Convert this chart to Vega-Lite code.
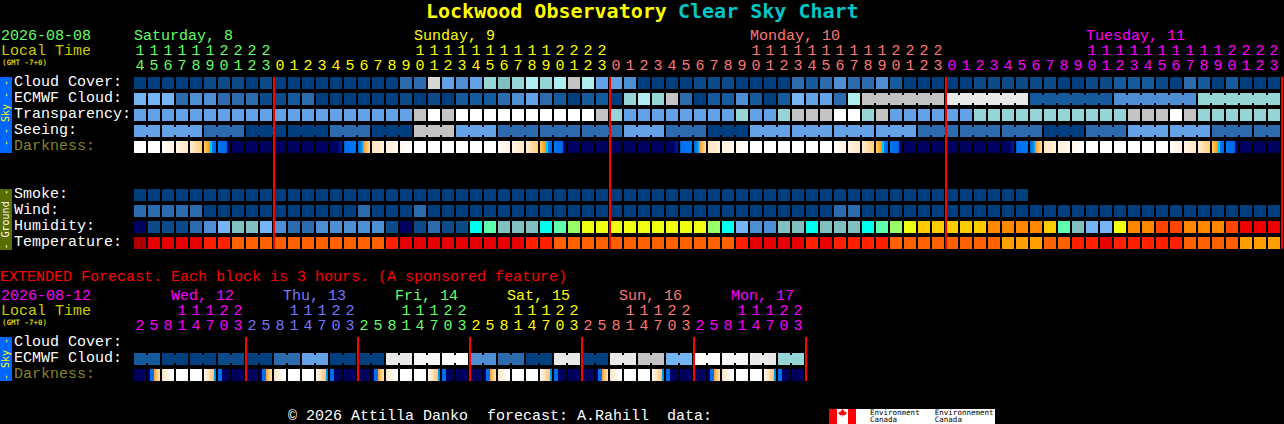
{"$schema":"https://vega.github.io/schema/vega-lite/v6.json","width":1284,"height":424,"padding":0,"autosize":{"type":"fit","contains":"padding"},"background":"#000000","config":{"view":{"stroke":null},"axis":{"disable":true}},
"datasets":{
"cells":[
{"c":0,"r":0,"k":"A"},{"c":1,"r":0,"k":"A"},{"c":2,"r":0,"k":"A"},{"c":3,"r":0,"k":"A"},{"c":4,"r":0,"k":"A"},{"c":5,"r":0,"k":"B"},{"c":6,"r":0,"k":"B"},{"c":7,"r":0,"k":"B"},{"c":8,"r":0,"k":"A"},{"c":9,"r":0,"k":"B"},{"c":10,"r":0,"k":"A"},{"c":11,"r":0,"k":"A"},{"c":12,"r":0,"k":"A"},{"c":13,"r":0,"k":"A"},{"c":14,"r":0,"k":"A"},{"c":15,"r":0,"k":"A"},{"c":16,"r":0,"k":"A"},{"c":17,"r":0,"k":"A"},{"c":18,"r":0,"k":"A"},{"c":19,"r":0,"k":"D"},{"c":20,"r":0,"k":"D"},{"c":21,"r":0,"k":"Q"},{"c":22,"r":0,"k":"F"},{"c":23,"r":0,"k":"E"},{"c":24,"r":0,"k":"F"},{"c":25,"r":0,"k":"I"},{"c":26,"r":0,"k":"H"},{"c":27,"r":0,"k":"I"},{"c":28,"r":0,"k":"J"},{"c":29,"r":0,"k":"I"},{"c":30,"r":0,"k":"J"},{"c":31,"r":0,"k":"K"},{"c":32,"r":0,"k":"J"},{"c":33,"r":0,"k":"F"},{"c":34,"r":0,"k":"F"},{"c":35,"r":0,"k":"E"},{"c":36,"r":0,"k":"A"},{"c":37,"r":0,"k":"A"},{"c":38,"r":0,"k":"A"},{"c":39,"r":0,"k":"A"},{"c":40,"r":0,"k":"B"},{"c":41,"r":0,"k":"B"},{"c":42,"r":0,"k":"B"},{"c":43,"r":0,"k":"A"},{"c":44,"r":0,"k":"A"},{"c":45,"r":0,"k":"A"},{"c":46,"r":0,"k":"A"},{"c":47,"r":0,"k":"D"},{"c":48,"r":0,"k":"C"},{"c":49,"r":0,"k":"D"},{"c":50,"r":0,"k":"E"},{"c":51,"r":0,"k":"D"},{"c":52,"r":0,"k":"D"},{"c":53,"r":0,"k":"E"},{"c":54,"r":0,"k":"C"},{"c":55,"r":0,"k":"A"},{"c":56,"r":0,"k":"A"},{"c":57,"r":0,"k":"A"},{"c":58,"r":0,"k":"A"},{"c":59,"r":0,"k":"A"},{"c":60,"r":0,"k":"B"},{"c":61,"r":0,"k":"B"},{"c":62,"r":0,"k":"B"},{"c":63,"r":0,"k":"B"},{"c":64,"r":0,"k":"B"},{"c":65,"r":0,"k":"B"},{"c":66,"r":0,"k":"A"},{"c":67,"r":0,"k":"A"},{"c":68,"r":0,"k":"B"},{"c":69,"r":0,"k":"B"},{"c":70,"r":0,"k":"C"},{"c":71,"r":0,"k":"C"},{"c":72,"r":0,"k":"C"},{"c":73,"r":0,"k":"B"},{"c":74,"r":0,"k":"A"},{"c":75,"r":0,"k":"D"},{"c":76,"r":0,"k":"C"},{"c":77,"r":0,"k":"A"},{"c":78,"r":0,"k":"C"},{"c":79,"r":0,"k":"A"},{"c":80,"r":0,"k":"A"},{"c":81,"r":0,"k":"A"},
{"c":0,"r":1,"k":"G"},{"c":1,"r":1,"k":"G"},{"c":2,"r":1,"k":"G"},{"c":3,"r":1,"k":"D"},{"c":4,"r":1,"k":"E"},{"c":5,"r":1,"k":"E"},{"c":6,"r":1,"k":"D"},{"c":7,"r":1,"k":"D"},{"c":8,"r":1,"k":"D"},{"c":9,"r":1,"k":"B"},{"c":10,"r":1,"k":"B"},{"c":11,"r":1,"k":"C"},{"c":12,"r":1,"k":"D"},{"c":13,"r":1,"k":"A"},{"c":14,"r":1,"k":"A"},{"c":15,"r":1,"k":"A"},{"c":16,"r":1,"k":"A"},{"c":17,"r":1,"k":"A"},{"c":18,"r":1,"k":"A"},{"c":19,"r":1,"k":"B"},{"c":20,"r":1,"k":"A"},{"c":21,"r":1,"k":"B"},{"c":22,"r":1,"k":"A"},{"c":23,"r":1,"k":"C"},{"c":24,"r":1,"k":"C"},{"c":25,"r":1,"k":"C"},{"c":26,"r":1,"k":"D"},{"c":27,"r":1,"k":"E"},{"c":28,"r":1,"k":"F"},{"c":29,"r":1,"k":"D"},{"c":30,"r":1,"k":"C"},{"c":31,"r":1,"k":"A"},{"c":32,"r":1,"k":"C"},{"c":33,"r":1,"k":"C"},{"c":34,"r":1,"k":"A"},{"c":35,"r":1,"k":"I"},{"c":36,"r":1,"k":"J"},{"c":37,"r":1,"k":"I"},{"c":38,"r":1,"k":"K"},{"c":39,"r":1,"k":"D"},{"c":40,"r":1,"k":"A"},{"c":41,"r":1,"k":"C"},{"c":42,"r":1,"k":"C"},{"c":43,"r":1,"k":"E"},{"c":44,"r":1,"k":"C"},{"c":45,"r":1,"k":"A"},{"c":46,"r":1,"k":"C"},{"c":47,"r":1,"k":"G"},{"c":48,"r":1,"k":"F"},{"c":49,"r":1,"k":"F"},{"c":50,"r":1,"k":"D"},{"c":51,"r":1,"k":"J"},{"c":52,"r":1,"k":"K"},{"c":53,"r":1,"k":"K"},{"c":54,"r":1,"k":"K"},{"c":55,"r":1,"k":"K"},{"c":56,"r":1,"k":"K"},{"c":57,"r":1,"k":"K"},{"c":58,"r":1,"k":"L"},{"c":59,"r":1,"k":"L"},{"c":60,"r":1,"k":"L"},{"c":61,"r":1,"k":"L"},{"c":62,"r":1,"k":"L"},{"c":63,"r":1,"k":"L"},{"c":64,"r":1,"k":"C"},{"c":65,"r":1,"k":"C"},{"c":66,"r":1,"k":"C"},{"c":67,"r":1,"k":"C"},{"c":68,"r":1,"k":"C"},{"c":69,"r":1,"k":"C"},{"c":70,"r":1,"k":"E"},{"c":71,"r":1,"k":"E"},{"c":72,"r":1,"k":"E"},{"c":73,"r":1,"k":"E"},{"c":74,"r":1,"k":"E"},{"c":75,"r":1,"k":"E"},{"c":76,"r":1,"k":"I"},{"c":77,"r":1,"k":"I"},{"c":78,"r":1,"k":"I"},{"c":79,"r":1,"k":"I"},{"c":80,"r":1,"k":"I"},{"c":81,"r":1,"k":"I"},
{"c":0,"r":2,"k":"F"},{"c":1,"r":2,"k":"F"},{"c":2,"r":2,"k":"F"},{"c":3,"r":2,"k":"F"},{"c":4,"r":2,"k":"F"},{"c":5,"r":2,"k":"F"},{"c":6,"r":2,"k":"F"},{"c":7,"r":2,"k":"F"},{"c":8,"r":2,"k":"F"},{"c":9,"r":2,"k":"F"},{"c":10,"r":2,"k":"F"},{"c":11,"r":2,"k":"F"},{"c":12,"r":2,"k":"F"},{"c":13,"r":2,"k":"F"},{"c":14,"r":2,"k":"F"},{"c":15,"r":2,"k":"F"},{"c":16,"r":2,"k":"F"},{"c":17,"r":2,"k":"F"},{"c":18,"r":2,"k":"F"},{"c":19,"r":2,"k":"F"},{"c":20,"r":2,"k":"K"},{"c":21,"r":2,"k":"M"},{"c":22,"r":2,"k":"K"},{"c":23,"r":2,"k":"M"},{"c":24,"r":2,"k":"M"},{"c":25,"r":2,"k":"M"},{"c":26,"r":2,"k":"M"},{"c":27,"r":2,"k":"M"},{"c":28,"r":2,"k":"M"},{"c":29,"r":2,"k":"M"},{"c":30,"r":2,"k":"M"},{"c":31,"r":2,"k":"M"},{"c":32,"r":2,"k":"M"},{"c":33,"r":2,"k":"K"},{"c":34,"r":2,"k":"I"},{"c":35,"r":2,"k":"F"},{"c":36,"r":2,"k":"F"},{"c":37,"r":2,"k":"F"},{"c":38,"r":2,"k":"F"},{"c":39,"r":2,"k":"F"},{"c":40,"r":2,"k":"F"},{"c":41,"r":2,"k":"F"},{"c":42,"r":2,"k":"F"},{"c":43,"r":2,"k":"I"},{"c":44,"r":2,"k":"F"},{"c":45,"r":2,"k":"F"},{"c":46,"r":2,"k":"I"},{"c":47,"r":2,"k":"K"},{"c":48,"r":2,"k":"K"},{"c":49,"r":2,"k":"K"},{"c":50,"r":2,"k":"M"},{"c":51,"r":2,"k":"M"},{"c":52,"r":2,"k":"I"},{"c":53,"r":2,"k":"K"},{"c":54,"r":2,"k":"F"},{"c":55,"r":2,"k":"F"},{"c":56,"r":2,"k":"F"},{"c":57,"r":2,"k":"F"},{"c":58,"r":2,"k":"F"},{"c":59,"r":2,"k":"F"},{"c":60,"r":2,"k":"I"},{"c":61,"r":2,"k":"I"},{"c":62,"r":2,"k":"I"},{"c":63,"r":2,"k":"I"},{"c":64,"r":2,"k":"I"},{"c":65,"r":2,"k":"I"},{"c":66,"r":2,"k":"I"},{"c":67,"r":2,"k":"I"},{"c":68,"r":2,"k":"I"},{"c":69,"r":2,"k":"I"},{"c":70,"r":2,"k":"I"},{"c":71,"r":2,"k":"K"},{"c":72,"r":2,"k":"K"},{"c":73,"r":2,"k":"K"},{"c":74,"r":2,"k":"M"},{"c":75,"r":2,"k":"K"},{"c":76,"r":2,"k":"I"},{"c":77,"r":2,"k":"I"},{"c":78,"r":2,"k":"I"},{"c":79,"r":2,"k":"I"},{"c":80,"r":2,"k":"I"},{"c":81,"r":2,"k":"I"},
{"c":0,"r":3,"k":"F"},{"c":1,"r":3,"k":"F"},{"c":2,"r":3,"k":"F"},{"c":3,"r":3,"k":"F"},{"c":4,"r":3,"k":"F"},{"c":5,"r":3,"k":"D"},{"c":6,"r":3,"k":"D"},{"c":7,"r":3,"k":"D"},{"c":8,"r":3,"k":"A"},{"c":9,"r":3,"k":"A"},{"c":10,"r":3,"k":"A"},{"c":11,"r":3,"k":"A"},{"c":12,"r":3,"k":"A"},{"c":13,"r":3,"k":"A"},{"c":14,"r":3,"k":"D"},{"c":15,"r":3,"k":"D"},{"c":16,"r":3,"k":"D"},{"c":17,"r":3,"k":"A"},{"c":18,"r":3,"k":"A"},{"c":19,"r":3,"k":"A"},{"c":20,"r":3,"k":"K"},{"c":21,"r":3,"k":"K"},{"c":22,"r":3,"k":"K"},{"c":23,"r":3,"k":"F"},{"c":24,"r":3,"k":"F"},{"c":25,"r":3,"k":"F"},{"c":26,"r":3,"k":"D"},{"c":27,"r":3,"k":"D"},{"c":28,"r":3,"k":"D"},{"c":29,"r":3,"k":"D"},{"c":30,"r":3,"k":"D"},{"c":31,"r":3,"k":"D"},{"c":32,"r":3,"k":"D"},{"c":33,"r":3,"k":"D"},{"c":34,"r":3,"k":"D"},{"c":35,"r":3,"k":"F"},{"c":36,"r":3,"k":"F"},{"c":37,"r":3,"k":"F"},{"c":38,"r":3,"k":"D"},{"c":39,"r":3,"k":"D"},{"c":40,"r":3,"k":"D"},{"c":41,"r":3,"k":"A"},{"c":42,"r":3,"k":"A"},{"c":43,"r":3,"k":"A"},{"c":44,"r":3,"k":"F"},{"c":45,"r":3,"k":"F"},{"c":46,"r":3,"k":"F"},{"c":47,"r":3,"k":"F"},{"c":48,"r":3,"k":"F"},{"c":49,"r":3,"k":"F"},{"c":50,"r":3,"k":"F"},{"c":51,"r":3,"k":"F"},{"c":52,"r":3,"k":"F"},{"c":53,"r":3,"k":"F"},{"c":54,"r":3,"k":"F"},{"c":55,"r":3,"k":"F"},{"c":56,"r":3,"k":"D"},{"c":57,"r":3,"k":"D"},{"c":58,"r":3,"k":"D"},{"c":59,"r":3,"k":"D"},{"c":60,"r":3,"k":"D"},{"c":61,"r":3,"k":"D"},{"c":62,"r":3,"k":"D"},{"c":63,"r":3,"k":"D"},{"c":64,"r":3,"k":"D"},{"c":65,"r":3,"k":"A"},{"c":66,"r":3,"k":"A"},{"c":67,"r":3,"k":"A"},{"c":68,"r":3,"k":"D"},{"c":69,"r":3,"k":"D"},{"c":70,"r":3,"k":"D"},{"c":71,"r":3,"k":"F"},{"c":72,"r":3,"k":"F"},{"c":73,"r":3,"k":"F"},{"c":74,"r":3,"k":"F"},{"c":75,"r":3,"k":"F"},{"c":76,"r":3,"k":"F"},{"c":77,"r":3,"k":"D"},{"c":78,"r":3,"k":"D"},{"c":79,"r":3,"k":"D"},{"c":80,"r":3,"k":"D"},{"c":81,"r":3,"k":"D"},
{"c":0,"r":4,"k":"M"},{"c":1,"r":4,"k":"M"},{"c":2,"r":4,"k":"dw1"},{"c":3,"r":4,"k":"dw2"},{"c":4,"r":4,"k":"dw3"},{"c":5,"r":4,"k":"dt"},{"c":6,"r":4,"k":"db"},{"c":7,"r":4,"k":"N"},{"c":8,"r":4,"k":"N"},{"c":9,"r":4,"k":"N"},{"c":10,"r":4,"k":"N"},{"c":11,"r":4,"k":"N"},{"c":12,"r":4,"k":"N"},{"c":13,"r":4,"k":"N"},{"c":14,"r":4,"k":"dn2"},{"c":15,"r":4,"k":"dm"},{"c":16,"r":4,"k":"dm2"},{"c":17,"r":4,"k":"du1"},{"c":18,"r":4,"k":"du2"},{"c":19,"r":4,"k":"du3"},{"c":20,"r":4,"k":"M"},{"c":21,"r":4,"k":"M"},{"c":22,"r":4,"k":"M"},{"c":23,"r":4,"k":"M"},{"c":24,"r":4,"k":"M"},{"c":25,"r":4,"k":"M"},{"c":26,"r":4,"k":"dw1"},{"c":27,"r":4,"k":"dw2"},{"c":28,"r":4,"k":"dw3"},{"c":29,"r":4,"k":"dt"},{"c":30,"r":4,"k":"db"},{"c":31,"r":4,"k":"N"},{"c":32,"r":4,"k":"N"},{"c":33,"r":4,"k":"N"},{"c":34,"r":4,"k":"N"},{"c":35,"r":4,"k":"N"},{"c":36,"r":4,"k":"N"},{"c":37,"r":4,"k":"N"},{"c":38,"r":4,"k":"dn2"},{"c":39,"r":4,"k":"dm"},{"c":40,"r":4,"k":"dm2"},{"c":41,"r":4,"k":"du1"},{"c":42,"r":4,"k":"du2"},{"c":43,"r":4,"k":"du3"},{"c":44,"r":4,"k":"M"},{"c":45,"r":4,"k":"M"},{"c":46,"r":4,"k":"M"},{"c":47,"r":4,"k":"M"},{"c":48,"r":4,"k":"M"},{"c":49,"r":4,"k":"M"},{"c":50,"r":4,"k":"dw1"},{"c":51,"r":4,"k":"dw2"},{"c":52,"r":4,"k":"dw3"},{"c":53,"r":4,"k":"dt"},{"c":54,"r":4,"k":"db"},{"c":55,"r":4,"k":"N"},{"c":56,"r":4,"k":"N"},{"c":57,"r":4,"k":"N"},{"c":58,"r":4,"k":"N"},{"c":59,"r":4,"k":"N"},{"c":60,"r":4,"k":"N"},{"c":61,"r":4,"k":"N"},{"c":62,"r":4,"k":"dn2"},{"c":63,"r":4,"k":"dm"},{"c":64,"r":4,"k":"dm2"},{"c":65,"r":4,"k":"du1"},{"c":66,"r":4,"k":"du2"},{"c":67,"r":4,"k":"du3"},{"c":68,"r":4,"k":"M"},{"c":69,"r":4,"k":"M"},{"c":70,"r":4,"k":"M"},{"c":71,"r":4,"k":"M"},{"c":72,"r":4,"k":"M"},{"c":73,"r":4,"k":"M"},{"c":74,"r":4,"k":"dw1"},{"c":75,"r":4,"k":"dw2"},{"c":76,"r":4,"k":"dw3"},{"c":77,"r":4,"k":"dt"},{"c":78,"r":4,"k":"db"},{"c":79,"r":4,"k":"N"},{"c":80,"r":4,"k":"N"},{"c":81,"r":4,"k":"N"},
{"c":0,"r":7,"k":"A"},{"c":1,"r":7,"k":"A"},{"c":2,"r":7,"k":"A"},{"c":3,"r":7,"k":"A"},{"c":4,"r":7,"k":"A"},{"c":5,"r":7,"k":"A"},{"c":6,"r":7,"k":"A"},{"c":7,"r":7,"k":"A"},{"c":8,"r":7,"k":"A"},{"c":9,"r":7,"k":"A"},{"c":10,"r":7,"k":"A"},{"c":11,"r":7,"k":"A"},{"c":12,"r":7,"k":"A"},{"c":13,"r":7,"k":"A"},{"c":14,"r":7,"k":"A"},{"c":15,"r":7,"k":"A"},{"c":16,"r":7,"k":"A"},{"c":17,"r":7,"k":"A"},{"c":18,"r":7,"k":"A"},{"c":19,"r":7,"k":"A"},{"c":20,"r":7,"k":"A"},{"c":21,"r":7,"k":"A"},{"c":22,"r":7,"k":"A"},{"c":23,"r":7,"k":"A"},{"c":24,"r":7,"k":"A"},{"c":25,"r":7,"k":"A"},{"c":26,"r":7,"k":"A"},{"c":27,"r":7,"k":"A"},{"c":28,"r":7,"k":"A"},{"c":29,"r":7,"k":"A"},{"c":30,"r":7,"k":"A"},{"c":31,"r":7,"k":"A"},{"c":32,"r":7,"k":"A"},{"c":33,"r":7,"k":"A"},{"c":34,"r":7,"k":"A"},{"c":35,"r":7,"k":"A"},{"c":36,"r":7,"k":"A"},{"c":37,"r":7,"k":"A"},{"c":38,"r":7,"k":"A"},{"c":39,"r":7,"k":"A"},{"c":40,"r":7,"k":"A"},{"c":41,"r":7,"k":"A"},{"c":42,"r":7,"k":"A"},{"c":43,"r":7,"k":"A"},{"c":44,"r":7,"k":"A"},{"c":45,"r":7,"k":"A"},{"c":46,"r":7,"k":"A"},{"c":47,"r":7,"k":"A"},{"c":48,"r":7,"k":"A"},{"c":49,"r":7,"k":"A"},{"c":50,"r":7,"k":"A"},{"c":51,"r":7,"k":"A"},{"c":52,"r":7,"k":"A"},{"c":53,"r":7,"k":"A"},{"c":54,"r":7,"k":"A"},{"c":55,"r":7,"k":"A"},{"c":56,"r":7,"k":"A"},{"c":57,"r":7,"k":"A"},{"c":58,"r":7,"k":"A"},{"c":59,"r":7,"k":"A"},{"c":60,"r":7,"k":"A"},{"c":61,"r":7,"k":"A"},{"c":62,"r":7,"k":"A"},{"c":63,"r":7,"k":"A"},
{"c":0,"r":8,"k":"D"},{"c":1,"r":8,"k":"D"},{"c":2,"r":8,"k":"D"},{"c":3,"r":8,"k":"D"},{"c":4,"r":8,"k":"D"},{"c":5,"r":8,"k":"A"},{"c":6,"r":8,"k":"A"},{"c":7,"r":8,"k":"A"},{"c":8,"r":8,"k":"A"},{"c":9,"r":8,"k":"A"},{"c":10,"r":8,"k":"A"},{"c":11,"r":8,"k":"A"},{"c":12,"r":8,"k":"A"},{"c":13,"r":8,"k":"A"},{"c":14,"r":8,"k":"A"},{"c":15,"r":8,"k":"A"},{"c":16,"r":8,"k":"D"},{"c":17,"r":8,"k":"A"},{"c":18,"r":8,"k":"A"},{"c":19,"r":8,"k":"A"},{"c":20,"r":8,"k":"D"},{"c":21,"r":8,"k":"A"},{"c":22,"r":8,"k":"A"},{"c":23,"r":8,"k":"A"},{"c":24,"r":8,"k":"A"},{"c":25,"r":8,"k":"A"},{"c":26,"r":8,"k":"A"},{"c":27,"r":8,"k":"A"},{"c":28,"r":8,"k":"A"},{"c":29,"r":8,"k":"A"},{"c":30,"r":8,"k":"A"},{"c":31,"r":8,"k":"A"},{"c":32,"r":8,"k":"A"},{"c":33,"r":8,"k":"A"},{"c":34,"r":8,"k":"A"},{"c":35,"r":8,"k":"A"},{"c":36,"r":8,"k":"A"},{"c":37,"r":8,"k":"A"},{"c":38,"r":8,"k":"A"},{"c":39,"r":8,"k":"A"},{"c":40,"r":8,"k":"A"},{"c":41,"r":8,"k":"A"},{"c":42,"r":8,"k":"A"},{"c":43,"r":8,"k":"A"},{"c":44,"r":8,"k":"A"},{"c":45,"r":8,"k":"A"},{"c":46,"r":8,"k":"A"},{"c":47,"r":8,"k":"A"},{"c":48,"r":8,"k":"A"},{"c":49,"r":8,"k":"A"},{"c":50,"r":8,"k":"D"},{"c":51,"r":8,"k":"D"},{"c":52,"r":8,"k":"A"},{"c":53,"r":8,"k":"A"},{"c":54,"r":8,"k":"A"},{"c":55,"r":8,"k":"A"},{"c":56,"r":8,"k":"A"},{"c":57,"r":8,"k":"A"},{"c":58,"r":8,"k":"A"},{"c":59,"r":8,"k":"A"},{"c":60,"r":8,"k":"A"},{"c":61,"r":8,"k":"A"},{"c":62,"r":8,"k":"A"},{"c":63,"r":8,"k":"A"},{"c":64,"r":8,"k":"A"},{"c":65,"r":8,"k":"A"},{"c":66,"r":8,"k":"A"},{"c":67,"r":8,"k":"A"},{"c":68,"r":8,"k":"A"},{"c":69,"r":8,"k":"A"},{"c":70,"r":8,"k":"A"},{"c":71,"r":8,"k":"A"},{"c":72,"r":8,"k":"A"},{"c":73,"r":8,"k":"A"},{"c":74,"r":8,"k":"A"},{"c":75,"r":8,"k":"A"},{"c":76,"r":8,"k":"A"},{"c":77,"r":8,"k":"A"},{"c":78,"r":8,"k":"A"},{"c":79,"r":8,"k":"A"},{"c":80,"r":8,"k":"A"},{"c":81,"r":8,"k":"A"},
{"c":0,"r":9,"k":"N"},{"c":1,"r":9,"k":"B"},{"c":2,"r":9,"k":"B"},{"c":3,"r":9,"k":"B"},{"c":4,"r":9,"k":"D"},{"c":5,"r":9,"k":"E"},{"c":6,"r":9,"k":"G"},{"c":7,"r":9,"k":"H"},{"c":8,"r":9,"k":"H"},{"c":9,"r":9,"k":"G"},{"c":10,"r":9,"k":"E"},{"c":11,"r":9,"k":"D"},{"c":12,"r":9,"k":"D"},{"c":13,"r":9,"k":"E"},{"c":14,"r":9,"k":"E"},{"c":15,"r":9,"k":"E"},{"c":16,"r":9,"k":"E"},{"c":17,"r":9,"k":"E"},{"c":18,"r":9,"k":"B"},{"c":19,"r":9,"k":"N"},{"c":20,"r":9,"k":"B"},{"c":21,"r":9,"k":"D"},{"c":22,"r":9,"k":"B"},{"c":23,"r":9,"k":"B"},{"c":24,"r":9,"k":"hc"},{"c":25,"r":9,"k":"hm"},{"c":26,"r":9,"k":"H"},{"c":27,"r":9,"k":"H"},{"c":28,"r":9,"k":"H"},{"c":29,"r":9,"k":"hc"},{"c":30,"r":9,"k":"hm"},{"c":31,"r":9,"k":"hl"},{"c":32,"r":9,"k":"hy"},{"c":33,"r":9,"k":"hy"},{"c":34,"r":9,"k":"hy"},{"c":35,"r":9,"k":"hy"},{"c":36,"r":9,"k":"hy"},{"c":37,"r":9,"k":"hy"},{"c":38,"r":9,"k":"hy"},{"c":39,"r":9,"k":"hy"},{"c":40,"r":9,"k":"hy"},{"c":41,"r":9,"k":"hl"},{"c":42,"r":9,"k":"hc"},{"c":43,"r":9,"k":"G"},{"c":44,"r":9,"k":"E"},{"c":45,"r":9,"k":"E"},{"c":46,"r":9,"k":"H"},{"c":47,"r":9,"k":"H"},{"c":48,"r":9,"k":"hc"},{"c":49,"r":9,"k":"H"},{"c":50,"r":9,"k":"H"},{"c":51,"r":9,"k":"H"},{"c":52,"r":9,"k":"hc"},{"c":53,"r":9,"k":"hm"},{"c":54,"r":9,"k":"hl"},{"c":55,"r":9,"k":"hy"},{"c":56,"r":9,"k":"hg"},{"c":57,"r":9,"k":"hg"},{"c":58,"r":9,"k":"hg"},{"c":59,"r":9,"k":"hg"},{"c":60,"r":9,"k":"hg"},{"c":61,"r":9,"k":"ho"},{"c":62,"r":9,"k":"ho"},{"c":63,"r":9,"k":"ho"},{"c":64,"r":9,"k":"ho"},{"c":65,"r":9,"k":"hg"},{"c":66,"r":9,"k":"hm"},{"c":67,"r":9,"k":"H"},{"c":68,"r":9,"k":"G"},{"c":69,"r":9,"k":"G"},{"c":70,"r":9,"k":"hy"},{"c":71,"r":9,"k":"ho"},{"c":72,"r":9,"k":"ho"},{"c":73,"r":9,"k":"hr"},{"c":74,"r":9,"k":"hr"},{"c":75,"r":9,"k":"ho"},{"c":76,"r":9,"k":"ho"},{"c":77,"r":9,"k":"ho"},{"c":78,"r":9,"k":"hr"},{"c":79,"r":9,"k":"hd"},{"c":80,"r":9,"k":"hd"},{"c":81,"r":9,"k":"hd"},
{"c":0,"r":10,"k":"t0"},{"c":1,"r":10,"k":"t1"},{"c":2,"r":10,"k":"t1"},{"c":3,"r":10,"k":"t1"},{"c":4,"r":10,"k":"t1"},{"c":5,"r":10,"k":"t2"},{"c":6,"r":10,"k":"t2"},{"c":7,"r":10,"k":"t3"},{"c":8,"r":10,"k":"t3"},{"c":9,"r":10,"k":"t3"},{"c":10,"r":10,"k":"t3"},{"c":11,"r":10,"k":"t3"},{"c":12,"r":10,"k":"t3"},{"c":13,"r":10,"k":"t3"},{"c":14,"r":10,"k":"t3"},{"c":15,"r":10,"k":"t3"},{"c":16,"r":10,"k":"t3"},{"c":17,"r":10,"k":"t3"},{"c":18,"r":10,"k":"t2"},{"c":19,"r":10,"k":"t1"},{"c":20,"r":10,"k":"t1"},{"c":21,"r":10,"k":"t1"},{"c":22,"r":10,"k":"t1"},{"c":23,"r":10,"k":"t1"},{"c":24,"r":10,"k":"t1"},{"c":25,"r":10,"k":"t1"},{"c":26,"r":10,"k":"t1"},{"c":27,"r":10,"k":"t1"},{"c":28,"r":10,"k":"t2"},{"c":29,"r":10,"k":"t2"},{"c":30,"r":10,"k":"t3"},{"c":31,"r":10,"k":"t3"},{"c":32,"r":10,"k":"t3"},{"c":33,"r":10,"k":"t3"},{"c":34,"r":10,"k":"t3"},{"c":35,"r":10,"k":"t3"},{"c":36,"r":10,"k":"t3"},{"c":37,"r":10,"k":"t3"},{"c":38,"r":10,"k":"t3"},{"c":39,"r":10,"k":"t3"},{"c":40,"r":10,"k":"t3"},{"c":41,"r":10,"k":"t3"},{"c":42,"r":10,"k":"t3"},{"c":43,"r":10,"k":"t2"},{"c":44,"r":10,"k":"t1"},{"c":45,"r":10,"k":"t1"},{"c":46,"r":10,"k":"t1"},{"c":47,"r":10,"k":"t1"},{"c":48,"r":10,"k":"t2"},{"c":49,"r":10,"k":"t1"},{"c":50,"r":10,"k":"t2"},{"c":51,"r":10,"k":"t2"},{"c":52,"r":10,"k":"t2"},{"c":53,"r":10,"k":"t2"},{"c":54,"r":10,"k":"t3"},{"c":55,"r":10,"k":"t3"},{"c":56,"r":10,"k":"t3"},{"c":57,"r":10,"k":"t3"},{"c":58,"r":10,"k":"t3"},{"c":59,"r":10,"k":"t3"},{"c":60,"r":10,"k":"t3"},{"c":61,"r":10,"k":"t3"},{"c":62,"r":10,"k":"t4"},{"c":63,"r":10,"k":"t4"},{"c":64,"r":10,"k":"t4"},{"c":65,"r":10,"k":"t3"},{"c":66,"r":10,"k":"t3"},{"c":67,"r":10,"k":"t2"},{"c":68,"r":10,"k":"t2"},{"c":69,"r":10,"k":"t1"},{"c":70,"r":10,"k":"t2"},{"c":71,"r":10,"k":"t2"},{"c":72,"r":10,"k":"t2"},{"c":73,"r":10,"k":"t2"},{"c":74,"r":10,"k":"t2"},{"c":75,"r":10,"k":"t3"},{"c":76,"r":10,"k":"t3"},{"c":77,"r":10,"k":"t3"},{"c":78,"r":10,"k":"t3"},{"c":79,"r":10,"k":"t4"},{"c":80,"r":10,"k":"t4"},{"c":81,"r":10,"k":"t4"},
{"c":0,"r":17.25,"k":"C"},{"c":1,"r":17.25,"k":"C"},{"c":2,"r":17.25,"k":"A"},{"c":3,"r":17.25,"k":"A"},{"c":4,"r":17.25,"k":"A"},{"c":5,"r":17.25,"k":"A"},{"c":6,"r":17.25,"k":"B"},{"c":7,"r":17.25,"k":"B"},{"c":8,"r":17.25,"k":"A"},{"c":9,"r":17.25,"k":"A"},{"c":10,"r":17.25,"k":"D"},{"c":11,"r":17.25,"k":"D"},{"c":12,"r":17.25,"k":"F"},{"c":13,"r":17.25,"k":"F"},{"c":14,"r":17.25,"k":"A"},{"c":15,"r":17.25,"k":"A"},{"c":16,"r":17.25,"k":"A"},{"c":17,"r":17.25,"k":"A"},{"c":18,"r":17.25,"k":"L"},{"c":19,"r":17.25,"k":"L"},{"c":20,"r":17.25,"k":"P"},{"c":21,"r":17.25,"k":"P"},{"c":22,"r":17.25,"k":"M"},{"c":23,"r":17.25,"k":"M"},{"c":24,"r":17.25,"k":"E"},{"c":25,"r":17.25,"k":"E"},{"c":26,"r":17.25,"k":"D"},{"c":27,"r":17.25,"k":"D"},{"c":28,"r":17.25,"k":"A"},{"c":29,"r":17.25,"k":"A"},{"c":30,"r":17.25,"k":"L"},{"c":31,"r":17.25,"k":"L"},{"c":32,"r":17.25,"k":"A"},{"c":33,"r":17.25,"k":"A"},{"c":34,"r":17.25,"k":"L"},{"c":35,"r":17.25,"k":"L"},{"c":36,"r":17.25,"k":"K"},{"c":37,"r":17.25,"k":"K"},{"c":38,"r":17.25,"k":"G"},{"c":39,"r":17.25,"k":"G"},{"c":40,"r":17.25,"k":"M"},{"c":41,"r":17.25,"k":"M"},{"c":42,"r":17.25,"k":"P"},{"c":43,"r":17.25,"k":"P"},{"c":44,"r":17.25,"k":"L"},{"c":45,"r":17.25,"k":"L"},{"c":46,"r":17.25,"k":"I"},{"c":47,"r":17.25,"k":"I"},
{"c":0,"r":18.25,"k":"N"},{"c":1,"r":18.25,"k":"e1"},{"c":2,"r":18.25,"k":"e2"},{"c":3,"r":18.25,"k":"M"},{"c":4,"r":18.25,"k":"M"},{"c":5,"r":18.25,"k":"e5"},{"c":6,"r":18.25,"k":"e6"},{"c":7,"r":18.25,"k":"N"},{"c":8,"r":18.25,"k":"N"},{"c":9,"r":18.25,"k":"e1"},{"c":10,"r":18.25,"k":"e2"},{"c":11,"r":18.25,"k":"M"},{"c":12,"r":18.25,"k":"M"},{"c":13,"r":18.25,"k":"e5"},{"c":14,"r":18.25,"k":"e6"},{"c":15,"r":18.25,"k":"N"},{"c":16,"r":18.25,"k":"N"},{"c":17,"r":18.25,"k":"e1"},{"c":18,"r":18.25,"k":"e2"},{"c":19,"r":18.25,"k":"M"},{"c":20,"r":18.25,"k":"M"},{"c":21,"r":18.25,"k":"e5"},{"c":22,"r":18.25,"k":"e6"},{"c":23,"r":18.25,"k":"N"},{"c":24,"r":18.25,"k":"N"},{"c":25,"r":18.25,"k":"e1"},{"c":26,"r":18.25,"k":"e2"},{"c":27,"r":18.25,"k":"M"},{"c":28,"r":18.25,"k":"M"},{"c":29,"r":18.25,"k":"e5"},{"c":30,"r":18.25,"k":"e6"},{"c":31,"r":18.25,"k":"N"},{"c":32,"r":18.25,"k":"N"},{"c":33,"r":18.25,"k":"e1"},{"c":34,"r":18.25,"k":"e2"},{"c":35,"r":18.25,"k":"M"},{"c":36,"r":18.25,"k":"M"},{"c":37,"r":18.25,"k":"e5"},{"c":38,"r":18.25,"k":"e6"},{"c":39,"r":18.25,"k":"N"},{"c":40,"r":18.25,"k":"N"},{"c":41,"r":18.25,"k":"e1"},{"c":42,"r":18.25,"k":"e2"},{"c":43,"r":18.25,"k":"M"},{"c":44,"r":18.25,"k":"M"},{"c":45,"r":18.25,"k":"e5"},{"c":46,"r":18.25,"k":"e6"},{"c":47,"r":18.25,"k":"N"}
],
"bridges":[
{"c":52,"r":1,"k":"K"},{"c":53,"r":1,"k":"K"},{"c":54,"r":1,"k":"K"},{"c":55,"r":1,"k":"K"},{"c":56,"r":1,"k":"K"},{"c":58,"r":1,"k":"L"},{"c":59,"r":1,"k":"L"},{"c":60,"r":1,"k":"L"},{"c":61,"r":1,"k":"L"},{"c":62,"r":1,"k":"L"},{"c":64,"r":1,"k":"C"},{"c":65,"r":1,"k":"C"},{"c":66,"r":1,"k":"C"},{"c":67,"r":1,"k":"C"},{"c":68,"r":1,"k":"C"},{"c":70,"r":1,"k":"E"},{"c":71,"r":1,"k":"E"},{"c":72,"r":1,"k":"E"},{"c":73,"r":1,"k":"E"},{"c":74,"r":1,"k":"E"},{"c":76,"r":1,"k":"I"},{"c":77,"r":1,"k":"I"},{"c":78,"r":1,"k":"I"},{"c":79,"r":1,"k":"I"},{"c":80,"r":1,"k":"I"},
{"c":0,"r":3,"k":"F"},{"c":2,"r":3,"k":"F"},{"c":3,"r":3,"k":"F"},{"c":5,"r":3,"k":"D"},{"c":6,"r":3,"k":"D"},{"c":8,"r":3,"k":"A"},{"c":9,"r":3,"k":"A"},{"c":11,"r":3,"k":"A"},{"c":12,"r":3,"k":"A"},{"c":14,"r":3,"k":"D"},{"c":15,"r":3,"k":"D"},{"c":17,"r":3,"k":"A"},{"c":18,"r":3,"k":"A"},{"c":20,"r":3,"k":"K"},{"c":21,"r":3,"k":"K"},{"c":23,"r":3,"k":"F"},{"c":24,"r":3,"k":"F"},{"c":26,"r":3,"k":"D"},{"c":27,"r":3,"k":"D"},{"c":29,"r":3,"k":"D"},{"c":30,"r":3,"k":"D"},{"c":32,"r":3,"k":"D"},{"c":33,"r":3,"k":"D"},{"c":35,"r":3,"k":"F"},{"c":36,"r":3,"k":"F"},{"c":38,"r":3,"k":"D"},{"c":39,"r":3,"k":"D"},{"c":41,"r":3,"k":"A"},{"c":42,"r":3,"k":"A"},{"c":44,"r":3,"k":"F"},{"c":45,"r":3,"k":"F"},{"c":47,"r":3,"k":"F"},{"c":48,"r":3,"k":"F"},{"c":50,"r":3,"k":"F"},{"c":51,"r":3,"k":"F"},{"c":53,"r":3,"k":"F"},{"c":54,"r":3,"k":"F"},{"c":56,"r":3,"k":"D"},{"c":57,"r":3,"k":"D"},{"c":59,"r":3,"k":"D"},{"c":60,"r":3,"k":"D"},{"c":62,"r":3,"k":"D"},{"c":63,"r":3,"k":"D"},{"c":65,"r":3,"k":"A"},{"c":66,"r":3,"k":"A"},{"c":68,"r":3,"k":"D"},{"c":69,"r":3,"k":"D"},{"c":71,"r":3,"k":"F"},{"c":72,"r":3,"k":"F"},{"c":74,"r":3,"k":"F"},{"c":75,"r":3,"k":"F"},{"c":77,"r":3,"k":"D"},{"c":78,"r":3,"k":"D"},{"c":80,"r":3,"k":"D"},
{"c":0,"r":17.25,"k":"C"},{"c":2,"r":17.25,"k":"A"},{"c":4,"r":17.25,"k":"A"},{"c":6,"r":17.25,"k":"B"},{"c":8,"r":17.25,"k":"A"},{"c":10,"r":17.25,"k":"D"},{"c":12,"r":17.25,"k":"F"},{"c":14,"r":17.25,"k":"A"},{"c":16,"r":17.25,"k":"A"},{"c":18,"r":17.25,"k":"L"},{"c":20,"r":17.25,"k":"P"},{"c":22,"r":17.25,"k":"M"},{"c":24,"r":17.25,"k":"E"},{"c":26,"r":17.25,"k":"D"},{"c":28,"r":17.25,"k":"A"},{"c":30,"r":17.25,"k":"L"},{"c":32,"r":17.25,"k":"A"},{"c":34,"r":17.25,"k":"L"},{"c":36,"r":17.25,"k":"K"},{"c":38,"r":17.25,"k":"G"},{"c":40,"r":17.25,"k":"M"},{"c":42,"r":17.25,"k":"P"},{"c":44,"r":17.25,"k":"L"},{"c":46,"r":17.25,"k":"I"}
],
"digits":[
{"c":0,"r":-1.375,"t":"1","k":"gn"},{"c":1,"r":-1.375,"t":"1","k":"gn"},{"c":2,"r":-1.375,"t":"1","k":"gn"},{"c":3,"r":-1.375,"t":"1","k":"gn"},{"c":4,"r":-1.375,"t":"1","k":"gn"},{"c":5,"r":-1.375,"t":"1","k":"gn"},{"c":6,"r":-1.375,"t":"2","k":"gn"},{"c":7,"r":-1.375,"t":"2","k":"gn"},{"c":8,"r":-1.375,"t":"2","k":"gn"},{"c":9,"r":-1.375,"t":"2","k":"gn"},
{"c":20,"r":-1.375,"t":"1","k":"yl"},{"c":21,"r":-1.375,"t":"1","k":"yl"},{"c":22,"r":-1.375,"t":"1","k":"yl"},{"c":23,"r":-1.375,"t":"1","k":"yl"},{"c":24,"r":-1.375,"t":"1","k":"yl"},{"c":25,"r":-1.375,"t":"1","k":"yl"},{"c":26,"r":-1.375,"t":"1","k":"yl"},{"c":27,"r":-1.375,"t":"1","k":"yl"},{"c":28,"r":-1.375,"t":"1","k":"yl"},{"c":29,"r":-1.375,"t":"1","k":"yl"},{"c":30,"r":-1.375,"t":"2","k":"yl"},{"c":31,"r":-1.375,"t":"2","k":"yl"},{"c":32,"r":-1.375,"t":"2","k":"yl"},{"c":33,"r":-1.375,"t":"2","k":"yl"},
{"c":44,"r":-1.375,"t":"1","k":"sm"},{"c":45,"r":-1.375,"t":"1","k":"sm"},{"c":46,"r":-1.375,"t":"1","k":"sm"},{"c":47,"r":-1.375,"t":"1","k":"sm"},{"c":48,"r":-1.375,"t":"1","k":"sm"},{"c":49,"r":-1.375,"t":"1","k":"sm"},{"c":50,"r":-1.375,"t":"1","k":"sm"},{"c":51,"r":-1.375,"t":"1","k":"sm"},{"c":52,"r":-1.375,"t":"1","k":"sm"},{"c":53,"r":-1.375,"t":"1","k":"sm"},{"c":54,"r":-1.375,"t":"2","k":"sm"},{"c":55,"r":-1.375,"t":"2","k":"sm"},{"c":56,"r":-1.375,"t":"2","k":"sm"},{"c":57,"r":-1.375,"t":"2","k":"sm"},
{"c":68,"r":-1.375,"t":"1","k":"mg"},{"c":69,"r":-1.375,"t":"1","k":"mg"},{"c":70,"r":-1.375,"t":"1","k":"mg"},{"c":71,"r":-1.375,"t":"1","k":"mg"},{"c":72,"r":-1.375,"t":"1","k":"mg"},{"c":73,"r":-1.375,"t":"1","k":"mg"},{"c":74,"r":-1.375,"t":"1","k":"mg"},{"c":75,"r":-1.375,"t":"1","k":"mg"},{"c":76,"r":-1.375,"t":"1","k":"mg"},{"c":77,"r":-1.375,"t":"1","k":"mg"},{"c":78,"r":-1.375,"t":"2","k":"mg"},{"c":79,"r":-1.375,"t":"2","k":"mg"},{"c":80,"r":-1.375,"t":"2","k":"mg"},{"c":81,"r":-1.375,"t":"2","k":"mg"},
{"c":0,"r":-0.4375,"t":"4","k":"gn"},{"c":1,"r":-0.4375,"t":"5","k":"gn"},{"c":2,"r":-0.4375,"t":"6","k":"gn"},{"c":3,"r":-0.4375,"t":"7","k":"gn"},{"c":4,"r":-0.4375,"t":"8","k":"gn"},{"c":5,"r":-0.4375,"t":"9","k":"gn"},{"c":6,"r":-0.4375,"t":"0","k":"gn"},{"c":7,"r":-0.4375,"t":"1","k":"gn"},{"c":8,"r":-0.4375,"t":"2","k":"gn"},{"c":9,"r":-0.4375,"t":"3","k":"gn"},
{"c":10,"r":-0.4375,"t":"0","k":"yl"},{"c":11,"r":-0.4375,"t":"1","k":"yl"},{"c":12,"r":-0.4375,"t":"2","k":"yl"},{"c":13,"r":-0.4375,"t":"3","k":"yl"},{"c":14,"r":-0.4375,"t":"4","k":"yl"},{"c":15,"r":-0.4375,"t":"5","k":"yl"},{"c":16,"r":-0.4375,"t":"6","k":"yl"},{"c":17,"r":-0.4375,"t":"7","k":"yl"},{"c":18,"r":-0.4375,"t":"8","k":"yl"},{"c":19,"r":-0.4375,"t":"9","k":"yl"},{"c":20,"r":-0.4375,"t":"0","k":"yl"},{"c":21,"r":-0.4375,"t":"1","k":"yl"},{"c":22,"r":-0.4375,"t":"2","k":"yl"},{"c":23,"r":-0.4375,"t":"3","k":"yl"},{"c":24,"r":-0.4375,"t":"4","k":"yl"},{"c":25,"r":-0.4375,"t":"5","k":"yl"},{"c":26,"r":-0.4375,"t":"6","k":"yl"},{"c":27,"r":-0.4375,"t":"7","k":"yl"},{"c":28,"r":-0.4375,"t":"8","k":"yl"},{"c":29,"r":-0.4375,"t":"9","k":"yl"},{"c":30,"r":-0.4375,"t":"0","k":"yl"},{"c":31,"r":-0.4375,"t":"1","k":"yl"},{"c":32,"r":-0.4375,"t":"2","k":"yl"},{"c":33,"r":-0.4375,"t":"3","k":"yl"},
{"c":34,"r":-0.4375,"t":"0","k":"sm"},{"c":35,"r":-0.4375,"t":"1","k":"sm"},{"c":36,"r":-0.4375,"t":"2","k":"sm"},{"c":37,"r":-0.4375,"t":"3","k":"sm"},{"c":38,"r":-0.4375,"t":"4","k":"sm"},{"c":39,"r":-0.4375,"t":"5","k":"sm"},{"c":40,"r":-0.4375,"t":"6","k":"sm"},{"c":41,"r":-0.4375,"t":"7","k":"sm"},{"c":42,"r":-0.4375,"t":"8","k":"sm"},{"c":43,"r":-0.4375,"t":"9","k":"sm"},{"c":44,"r":-0.4375,"t":"0","k":"sm"},{"c":45,"r":-0.4375,"t":"1","k":"sm"},{"c":46,"r":-0.4375,"t":"2","k":"sm"},{"c":47,"r":-0.4375,"t":"3","k":"sm"},{"c":48,"r":-0.4375,"t":"4","k":"sm"},{"c":49,"r":-0.4375,"t":"5","k":"sm"},{"c":50,"r":-0.4375,"t":"6","k":"sm"},{"c":51,"r":-0.4375,"t":"7","k":"sm"},{"c":52,"r":-0.4375,"t":"8","k":"sm"},{"c":53,"r":-0.4375,"t":"9","k":"sm"},{"c":54,"r":-0.4375,"t":"0","k":"sm"},{"c":55,"r":-0.4375,"t":"1","k":"sm"},{"c":56,"r":-0.4375,"t":"2","k":"sm"},{"c":57,"r":-0.4375,"t":"3","k":"sm"},
{"c":58,"r":-0.4375,"t":"0","k":"mg"},{"c":59,"r":-0.4375,"t":"1","k":"mg"},{"c":60,"r":-0.4375,"t":"2","k":"mg"},{"c":61,"r":-0.4375,"t":"3","k":"mg"},{"c":62,"r":-0.4375,"t":"4","k":"mg"},{"c":63,"r":-0.4375,"t":"5","k":"mg"},{"c":64,"r":-0.4375,"t":"6","k":"mg"},{"c":65,"r":-0.4375,"t":"7","k":"mg"},{"c":66,"r":-0.4375,"t":"8","k":"mg"},{"c":67,"r":-0.4375,"t":"9","k":"mg"},{"c":68,"r":-0.4375,"t":"0","k":"mg"},{"c":69,"r":-0.4375,"t":"1","k":"mg"},{"c":70,"r":-0.4375,"t":"2","k":"mg"},{"c":71,"r":-0.4375,"t":"3","k":"mg"},{"c":72,"r":-0.4375,"t":"4","k":"mg"},{"c":73,"r":-0.4375,"t":"5","k":"mg"},{"c":74,"r":-0.4375,"t":"6","k":"mg"},{"c":75,"r":-0.4375,"t":"7","k":"mg"},{"c":76,"r":-0.4375,"t":"8","k":"mg"},{"c":77,"r":-0.4375,"t":"9","k":"mg"},{"c":78,"r":-0.4375,"t":"0","k":"mg"},{"c":79,"r":-0.4375,"t":"1","k":"mg"},{"c":80,"r":-0.4375,"t":"2","k":"mg"},{"c":81,"r":-0.4375,"t":"3","k":"mg"},
{"c":3,"r":14.875,"t":"1","k":"mg"},{"c":4,"r":14.875,"t":"1","k":"mg"},{"c":5,"r":14.875,"t":"1","k":"mg"},{"c":6,"r":14.875,"t":"2","k":"mg"},{"c":7,"r":14.875,"t":"2","k":"mg"},
{"c":11,"r":14.875,"t":"1","k":"bl"},{"c":12,"r":14.875,"t":"1","k":"bl"},{"c":13,"r":14.875,"t":"1","k":"bl"},{"c":14,"r":14.875,"t":"2","k":"bl"},{"c":15,"r":14.875,"t":"2","k":"bl"},
{"c":19,"r":14.875,"t":"1","k":"gn"},{"c":20,"r":14.875,"t":"1","k":"gn"},{"c":21,"r":14.875,"t":"1","k":"gn"},{"c":22,"r":14.875,"t":"2","k":"gn"},{"c":23,"r":14.875,"t":"2","k":"gn"},
{"c":27,"r":14.875,"t":"1","k":"yl"},{"c":28,"r":14.875,"t":"1","k":"yl"},{"c":29,"r":14.875,"t":"1","k":"yl"},{"c":30,"r":14.875,"t":"2","k":"yl"},{"c":31,"r":14.875,"t":"2","k":"yl"},
{"c":35,"r":14.875,"t":"1","k":"sm"},{"c":36,"r":14.875,"t":"1","k":"sm"},{"c":37,"r":14.875,"t":"1","k":"sm"},{"c":38,"r":14.875,"t":"2","k":"sm"},{"c":39,"r":14.875,"t":"2","k":"sm"},
{"c":43,"r":14.875,"t":"1","k":"mg"},{"c":44,"r":14.875,"t":"1","k":"mg"},{"c":45,"r":14.875,"t":"1","k":"mg"},{"c":46,"r":14.875,"t":"2","k":"mg"},{"c":47,"r":14.875,"t":"2","k":"mg"},
{"c":0,"r":15.8125,"t":"2","k":"mg"},{"c":1,"r":15.8125,"t":"5","k":"mg"},{"c":2,"r":15.8125,"t":"8","k":"mg"},{"c":3,"r":15.8125,"t":"1","k":"mg"},{"c":4,"r":15.8125,"t":"4","k":"mg"},{"c":5,"r":15.8125,"t":"7","k":"mg"},{"c":6,"r":15.8125,"t":"0","k":"mg"},{"c":7,"r":15.8125,"t":"3","k":"mg"},
{"c":8,"r":15.8125,"t":"2","k":"bl"},{"c":9,"r":15.8125,"t":"5","k":"bl"},{"c":10,"r":15.8125,"t":"8","k":"bl"},{"c":11,"r":15.8125,"t":"1","k":"bl"},{"c":12,"r":15.8125,"t":"4","k":"bl"},{"c":13,"r":15.8125,"t":"7","k":"bl"},{"c":14,"r":15.8125,"t":"0","k":"bl"},{"c":15,"r":15.8125,"t":"3","k":"bl"},
{"c":16,"r":15.8125,"t":"2","k":"gn"},{"c":17,"r":15.8125,"t":"5","k":"gn"},{"c":18,"r":15.8125,"t":"8","k":"gn"},{"c":19,"r":15.8125,"t":"1","k":"gn"},{"c":20,"r":15.8125,"t":"4","k":"gn"},{"c":21,"r":15.8125,"t":"7","k":"gn"},{"c":22,"r":15.8125,"t":"0","k":"gn"},{"c":23,"r":15.8125,"t":"3","k":"gn"},
{"c":24,"r":15.8125,"t":"2","k":"yl"},{"c":25,"r":15.8125,"t":"5","k":"yl"},{"c":26,"r":15.8125,"t":"8","k":"yl"},{"c":27,"r":15.8125,"t":"1","k":"yl"},{"c":28,"r":15.8125,"t":"4","k":"yl"},{"c":29,"r":15.8125,"t":"7","k":"yl"},{"c":30,"r":15.8125,"t":"0","k":"yl"},{"c":31,"r":15.8125,"t":"3","k":"yl"},
{"c":32,"r":15.8125,"t":"2","k":"sm"},{"c":33,"r":15.8125,"t":"5","k":"sm"},{"c":34,"r":15.8125,"t":"8","k":"sm"},{"c":35,"r":15.8125,"t":"1","k":"sm"},{"c":36,"r":15.8125,"t":"4","k":"sm"},{"c":37,"r":15.8125,"t":"7","k":"sm"},{"c":38,"r":15.8125,"t":"0","k":"sm"},{"c":39,"r":15.8125,"t":"3","k":"sm"},
{"c":40,"r":15.8125,"t":"2","k":"mg"},{"c":41,"r":15.8125,"t":"5","k":"mg"},{"c":42,"r":15.8125,"t":"8","k":"mg"},{"c":43,"r":15.8125,"t":"1","k":"mg"},{"c":44,"r":15.8125,"t":"4","k":"mg"},{"c":45,"r":15.8125,"t":"7","k":"mg"},{"c":46,"r":15.8125,"t":"0","k":"mg"},{"c":47,"r":15.8125,"t":"3","k":"mg"}
]
},
"encoding":{
"x":{"field":"c","type":"quantitative","axis":null,"scale":{"domain":[-9.571428,82.142857],"nice":false,"zero":false}},
"y":{"field":"r","type":"quantitative","axis":null,"scale":{"domain":[-4.8125,21.6875],"nice":false,"zero":false,"reverse":true}},
"color":{"field":"k","type":"nominal","legend":null,"scale":{
"domain":["A","B","C","D","E","F","G","H","I","J","K","L","M","P","Q","N","hc","hm","hl","hy","hg","ho","hr","hd","t0","t1","t2","t3","t4","gn","yl","sm","mg","bl","lt","dk","wh","cy","rd","bk","sb","gb"],
"range":["#003f7f","#0c4a8a","#155a9c","#2c6cae","#4e8ed4","#63a2e6","#75b5f5","#80c0c0","#95d5d5","#aeeeee","#c3c3c3","#e9e9e9","#ffffff","#f8f8f8","#d6d6d6","#000060","#00ffee","#5fffaf","#99ff66","#eeff11","#ffcc00","#ff8800","#ff4400","#ee0000","#aa0000","#e60000","#ff2000","#ff6000","#ffa000","#66ff66","#ffff00","#ff7777","#ff00ff","#7777ff","#cccc00","#858520","#ffffff","#00c8c8","#ff0000","#000000","#0066ff","#5a6e00"]}}
},
"layer":[
{"data":{"values":[{"c":-9.571428,"c2":-8.714286,"r":0,"r2":4.75,"k":"sb"},{"c":-9.571428,"c2":-8.714286,"r":7,"r2":10.8125,"k":"gb"},{"c":-9.571428,"c2":-8.714286,"r":16.25,"r2":19,"k":"sb"},{"c":49.642857,"c2":61.5,"r":20.75,"r2":21.6875,"k":"wh"},{"c":49.642857,"c2":50.214286,"r":20.75,"r2":21.6875,"k":"rd"},{"c":51,"c2":51.571428,"r":20.75,"r2":21.6875,"k":"rd"}]},
"mark":{"type":"rect"},"encoding":{"x2":{"field":"c2"},"y2":{"field":"r2"}}},
{"data":{"name":"cells"},"transform":[{"filter":{"not":{"field":"k","oneOf":["dw1","dw2","dw3","dt","db","dn2","dm","dm2","du1","du2","du3","e1","e2","e5","e6"]}}}],"mark":{"type":"rect","width":12,"height":12,"xOffset":6,"yOffset":6}},
{"data":{"name":"cells"},"transform":[{"filter":{"field":"k","equal":"dw1"}}],"mark":{"type":"rect","width":12,"height":12,"xOffset":6,"yOffset":6},"encoding":{"color":{"value":{"gradient":"linear","x1":0,"y1":0,"x2":1,"y2":0,"stops":[{"offset":0,"color":"#ffffff"},{"offset":1,"color":"#fff0de"}]}}}},
{"data":{"name":"cells"},"transform":[{"filter":{"field":"k","equal":"dw2"}}],"mark":{"type":"rect","width":12,"height":12,"xOffset":6,"yOffset":6},"encoding":{"color":{"value":{"gradient":"linear","x1":0,"y1":0,"x2":1,"y2":0,"stops":[{"offset":0,"color":"#fff4e6"},{"offset":1,"color":"#ffe6c4"}]}}}},
{"data":{"name":"cells"},"transform":[{"filter":{"field":"k","equal":"dw3"}}],"mark":{"type":"rect","width":12,"height":12,"xOffset":6,"yOffset":6},"encoding":{"color":{"value":{"gradient":"linear","x1":0,"y1":0,"x2":1,"y2":0,"stops":[{"offset":0,"color":"#ffeccf"},{"offset":1,"color":"#ffca80"}]}}}},
{"data":{"name":"cells"},"transform":[{"filter":{"field":"k","equal":"dt"}}],"mark":{"type":"rect","width":12,"height":12,"xOffset":6,"yOffset":6},"encoding":{"color":{"value":{"gradient":"linear","x1":0,"y1":0,"x2":1,"y2":0,"stops":[{"offset":0,"color":"#ffcc66"},{"offset":0.45,"color":"#ff9a10"},{"offset":0.5,"color":"#00c8ff"},{"offset":0.66,"color":"#00c0f8"},{"offset":0.68,"color":"#0078f0"},{"offset":1,"color":"#0060e8"}]}}}},
{"data":{"name":"cells"},"transform":[{"filter":{"field":"k","equal":"db"}}],"mark":{"type":"rect","width":12,"height":12,"xOffset":6,"yOffset":6},"encoding":{"color":{"value":{"gradient":"linear","x1":0,"y1":0,"x2":1,"y2":0,"stops":[{"offset":0,"color":"#0073f5"},{"offset":0.7,"color":"#0068e8"},{"offset":0.76,"color":"#0030a0"},{"offset":0.85,"color":"#00006a"},{"offset":1,"color":"#000060"}]}}}},
{"data":{"name":"cells"},"transform":[{"filter":{"field":"k","equal":"dn2"}}],"mark":{"type":"rect","width":12,"height":12,"xOffset":6,"yOffset":6},"encoding":{"color":{"value":{"gradient":"linear","x1":0,"y1":0,"x2":1,"y2":0,"stops":[{"offset":0,"color":"#000060"},{"offset":0.6,"color":"#000060"},{"offset":1,"color":"#0020a0"}]}}}},
{"data":{"name":"cells"},"transform":[{"filter":{"field":"k","equal":"dm"}}],"mark":{"type":"rect","width":12,"height":12,"xOffset":6,"yOffset":6},"encoding":{"color":{"value":{"gradient":"linear","x1":0,"y1":0,"x2":1,"y2":0,"stops":[{"offset":0,"color":"#0050d0"},{"offset":0.15,"color":"#0073f0"},{"offset":1,"color":"#0073f0"}]}}}},
{"data":{"name":"cells"},"transform":[{"filter":{"field":"k","equal":"dm2"}}],"mark":{"type":"rect","width":12,"height":12,"xOffset":6,"yOffset":6},"encoding":{"color":{"value":{"gradient":"linear","x1":0,"y1":0,"x2":1,"y2":0,"stops":[{"offset":0,"color":"#0060e0"},{"offset":0.3,"color":"#0090f0"},{"offset":0.42,"color":"#10b8e0"},{"offset":0.5,"color":"#ffa030"},{"offset":0.7,"color":"#ffb858"},{"offset":1,"color":"#ffd8a0"}]}}}},
{"data":{"name":"cells"},"transform":[{"filter":{"field":"k","equal":"du1"}}],"mark":{"type":"rect","width":12,"height":12,"xOffset":6,"yOffset":6},"encoding":{"color":{"value":{"gradient":"linear","x1":0,"y1":0,"x2":1,"y2":0,"stops":[{"offset":0,"color":"#ffe4c0"},{"offset":1,"color":"#fff0dc"}]}}}},
{"data":{"name":"cells"},"transform":[{"filter":{"field":"k","equal":"du2"}}],"mark":{"type":"rect","width":12,"height":12,"xOffset":6,"yOffset":6},"encoding":{"color":{"value":{"gradient":"linear","x1":0,"y1":0,"x2":1,"y2":0,"stops":[{"offset":0,"color":"#fff0dc"},{"offset":1,"color":"#fff8ee"}]}}}},
{"data":{"name":"cells"},"transform":[{"filter":{"field":"k","equal":"du3"}}],"mark":{"type":"rect","width":12,"height":12,"xOffset":6,"yOffset":6},"encoding":{"color":{"value":{"gradient":"linear","x1":0,"y1":0,"x2":1,"y2":0,"stops":[{"offset":0,"color":"#fff8f0"},{"offset":1,"color":"#ffffff"}]}}}},
{"data":{"name":"cells"},"transform":[{"filter":{"field":"k","equal":"e1"}}],"mark":{"type":"rect","width":12,"height":12,"xOffset":6,"yOffset":6},"encoding":{"color":{"value":{"gradient":"linear","x1":0,"y1":0,"x2":1,"y2":0,"stops":[{"offset":0,"color":"#000060"},{"offset":0.15,"color":"#000060"},{"offset":0.18,"color":"#0070f0"},{"offset":0.5,"color":"#0070f0"},{"offset":0.52,"color":"#ffa030"},{"offset":0.7,"color":"#ffc070"},{"offset":1,"color":"#ffe4c0"}]}}}},
{"data":{"name":"cells"},"transform":[{"filter":{"field":"k","equal":"e2"}}],"mark":{"type":"rect","width":12,"height":12,"xOffset":6,"yOffset":6},"encoding":{"color":{"value":{"gradient":"linear","x1":0,"y1":0,"x2":1,"y2":0,"stops":[{"offset":0,"color":"#ffe4c0"},{"offset":0.8,"color":"#ffffff"},{"offset":1,"color":"#ffffff"}]}}}},
{"data":{"name":"cells"},"transform":[{"filter":{"field":"k","equal":"e5"}}],"mark":{"type":"rect","width":12,"height":12,"xOffset":6,"yOffset":6},"encoding":{"color":{"value":{"gradient":"linear","x1":0,"y1":0,"x2":1,"y2":0,"stops":[{"offset":0,"color":"#ffffff"},{"offset":0.8,"color":"#ffc070"},{"offset":0.83,"color":"#ffb050"},{"offset":0.85,"color":"#00a0f0"},{"offset":1,"color":"#0070f0"}]}}}},
{"data":{"name":"cells"},"transform":[{"filter":{"field":"k","equal":"e6"}}],"mark":{"type":"rect","width":12,"height":12,"xOffset":6,"yOffset":6},"encoding":{"color":{"value":{"gradient":"linear","x1":0,"y1":0,"x2":1,"y2":0,"stops":[{"offset":0,"color":"#0070f0"},{"offset":0.33,"color":"#0070f0"},{"offset":0.36,"color":"#000060"},{"offset":1,"color":"#000060"}]}}}},
{"data":{"name":"bridges"},"mark":{"type":"rect","width":2,"height":8,"xOffset":13,"yOffset":6}},
{"data":{"values":[{"c":10,"r":0,"r2":10.75},{"c":34,"r":0,"r2":10.75},{"c":58,"r":0,"r2":10.75},{"c":82,"r":0,"r2":10.75},{"c":8,"r":16.25,"r2":19},{"c":16,"r":16.25,"r2":19},{"c":24,"r":16.25,"r2":19},{"c":32,"r":16.25,"r2":19},{"c":40,"r":16.25,"r2":19},{"c":48,"r":16.25,"r2":19}]},
"mark":{"type":"rule","strokeWidth":2},"encoding":{"y2":{"field":"r2"},"color":{"value":"#ff0000"}}},
{"data":{"values":[{"c":50.607,"r":21.0}]},"mark":{"type":"point","filled":true,"opacity":1,"size":70,"shape":"M0,-1L.25,-.55L.45,-.65L.35,-.15L.6,-.4L.7,-.2L1,-.25L.85,.1L.95,.2L.5,.55L.05,.5V1H-.05V.5L-.5,.55L-.95,.2L-.85,.1L-1,-.25L-.7,-.2L-.6,-.4L-.35,-.15L-.45,-.65L-.25,-.55Z"},"encoding":{"color":{"value":"#ff0000"}}},
{"data":{"name":"digits"},"mark":{"type":"text","align":"center","baseline":"alphabetic","font":"Liberation Mono","fontSize":15,"xOffset":6},"encoding":{"text":{"field":"t"}}},
{"data":{"values":[
{"c":-9.5,"r":-2.3125,"t":"2026-08-08","k":"gn"},{"c":-9.5,"r":-1.375,"t":"Local Time","k":"lt"},
{"c":0,"r":-2.3125,"t":"Saturday, 8","k":"gn"},{"c":20,"r":-2.3125,"t":"Sunday, 9","k":"yl"},{"c":44,"r":-2.3125,"t":"Monday, 10","k":"sm"},{"c":68,"r":-2.3125,"t":"Tuesday, 11","k":"mg"},
{"c":-8.5714,"r":0.5625,"t":"Cloud Cover:","k":"wh"},{"c":-8.5714,"r":1.5625,"t":"ECMWF Cloud:","k":"wh"},{"c":-8.5714,"r":2.5625,"t":"Transparency:","k":"wh"},{"c":-8.5714,"r":3.5625,"t":"Seeing:","k":"wh"},{"c":-8.5714,"r":4.5625,"t":"Darkness:","k":"dk"},
{"c":-8.5714,"r":7.5625,"t":"Smoke:","k":"wh"},{"c":-8.5714,"r":8.5625,"t":"Wind:","k":"wh"},{"c":-8.5714,"r":9.5625,"t":"Humidity:","k":"wh"},{"c":-8.5714,"r":10.5625,"t":"Temperature:","k":"wh"},
{"c":-9.5714,"r":12.75,"t":"EXTENDED Forecast. Each block is 3 hours. (A sponsored feature)","k":"rd"},
{"c":-9.5,"r":13.9375,"t":"2026-08-12","k":"mg"},{"c":-9.5,"r":14.875,"t":"Local Time","k":"lt"},
{"c":2.643,"r":13.9375,"t":"Wed, 12","k":"mg"},{"c":10.643,"r":13.9375,"t":"Thu, 13","k":"bl"},{"c":18.643,"r":13.9375,"t":"Fri, 14","k":"gn"},{"c":26.643,"r":13.9375,"t":"Sat, 15","k":"yl"},{"c":34.643,"r":13.9375,"t":"Sun, 16","k":"sm"},{"c":42.643,"r":13.9375,"t":"Mon, 17","k":"mg"},
{"c":-8.5714,"r":16.8125,"t":"Cloud Cover:","k":"wh"},{"c":-8.5714,"r":17.8125,"t":"ECMWF Cloud:","k":"wh"},{"c":-8.5714,"r":18.8125,"t":"Darkness:","k":"dk"},
{"c":11.0,"r":21.4375,"t":"© 2026 Attilla Danko","k":"wh"},{"c":25.214,"r":21.4375,"t":"forecast: A.Rahill","k":"wh"},{"c":38.07,"r":21.4375,"t":"data:","k":"wh"}
]},"mark":{"type":"text","align":"left","baseline":"alphabetic","font":"Liberation Mono","fontSize":15},"encoding":{"text":{"field":"t"}}},
{"data":{"values":[{"c":20.857,"r":-3.6875,"t":"Lockwood Observatory","k":"yl"},{"c":38.857,"r":-3.6875,"t":"Clear Sky Chart","k":"cy"}]},"mark":{"type":"text","align":"left","baseline":"alphabetic","font":"DejaVu Sans Mono","fontWeight":"bold","fontSize":20},"encoding":{"text":{"field":"t"}}},
{"data":{"values":[{"c":-9.43,"r":-0.75,"t":"(GMT -7+0)","k":"lt"},{"c":-9.43,"r":15.5,"t":"(GMT -7+0)","k":"lt"}]},"mark":{"type":"text","align":"left","baseline":"alphabetic","font":"DejaVu Sans Mono","fontWeight":"bold","fontSize":7.5},"encoding":{"text":{"field":"t"}}},
{"data":{"values":[{"c":52.57,"r":21.125,"t":"Environment","k":"bk"},{"c":52.57,"r":21.5625,"t":"Canada","k":"bk"},{"c":57.2,"r":21.125,"t":"Environnement","k":"bk"},{"c":57.2,"r":21.5625,"t":"Canada","k":"bk"}]},"mark":{"type":"text","align":"left","baseline":"alphabetic","font":"DejaVu Sans Mono","fontSize":7.5},"encoding":{"text":{"field":"t"}}},
{"data":{"values":[{"c":-9.1429,"r":2.25,"t":"- - Sky - -","k":"yl"},{"c":-9.1429,"r":17.625,"t":"- Sky -","k":"yl"},{"c":-9.1429,"r":8.9,"t":"- Ground -","k":"wh"}]},"mark":{"type":"text","align":"center","baseline":"middle","angle":270,"font":"DejaVu Sans Mono","fontSize":10},"encoding":{"text":{"field":"t"}}}
]}
